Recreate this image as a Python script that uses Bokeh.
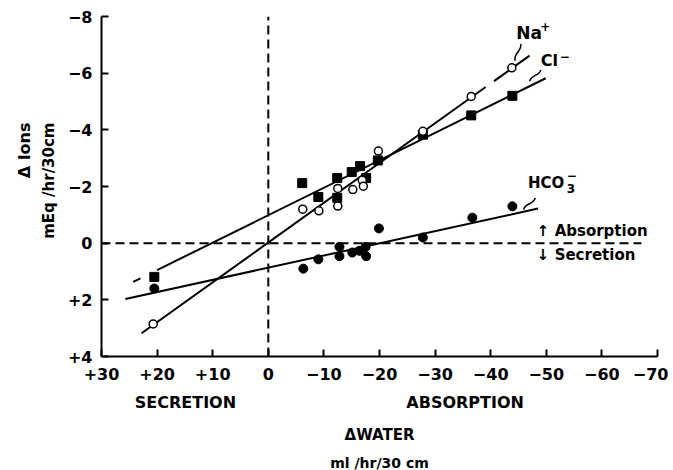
from bokeh.plotting import figure
from bokeh.models import Range1d, Label, FixedTicker, LinearAxis, Title
from bokeh.embed import file_html
from bokeh.resources import INLINE

# ---- data ----
na_x = [20.7, -6.2, -9.1, -12.5, -12.5, -15.2, -16.9, -17.1, -19.8, -27.8, -36.5, -43.8]
na_y = [2.85, -1.20, -1.14, -1.93, -1.31, -1.89, -2.22, -2.01, -3.25, -3.95, -5.18, -6.19]

cl_x = [20.5, -6.1, -9.0, -12.4, -12.4, -15.0, -16.5, -17.6, -19.7, -27.8, -36.5, -43.9]
cl_y = [1.19, -2.12, -1.63, -2.30, -1.60, -2.51, -2.72, -2.30, -2.92, -3.83, -4.51, -5.20]

hco3_x = [20.5, -6.3, -9.0, -12.8, -12.8, -15.1, -16.4, -17.5, -17.6, -19.9, -27.8, -36.7, -43.9]
hco3_y = [1.60, 0.90, 0.57, 0.13, 0.46, 0.33, 0.27, 0.13, 0.46, -0.52, -0.20, -0.90, -1.30]

# fitted lines (segment end points)
na_fit_xs = [[22.8, -39.1], [-40.6, -47.0]]
na_fit_ys = [[3.18, -5.51], [-5.72, -6.62]]
cl_fit_xs = [[24.3, 23.0], [20.0, -49.9]]
cl_fit_ys = [[1.37, 1.24], [0.95, -5.82]]
hco3_fit_xs = [[25.7, -48.5]]
hco3_fit_ys = [[1.97, -1.22]]

x_ticks = [30, 20, 10, 0, -10, -20, -30, -40, -50, -60, -70]
x_tick_labels = ["+30", "+20", "+10", "0", "\u221210", "\u221220", "\u221230",
                 "\u221240", "\u221250", "\u221260", "\u221270\u2005"]
y_ticks = [-8, -6, -4, -2, 0, 2, 4]
y_tick_labels = ["\u22128", "\u22126", "\u22124", "\u22122", "0", "+2", "+4"]

side_ticks = [14.9, -35.4]
side_labels = ["SECRETION", "ABSORPTION"]

FONT = "DejaVu Sans"

p = figure(width=672, height=470,
           x_range=Range1d(30, -70), y_range=Range1d(4, -8),
           output_backend="svg", toolbar_location=None,
           min_border_left=101, min_border_right=15,
           min_border_top=16, min_border_bottom=114)
p.outline_line_color = None
p.xgrid.visible = False
p.ygrid.visible = False
p.background_fill_color = "white"
p.border_fill_color = "white"

for ax, ticks, labels in ((p.xaxis[0], x_ticks, x_tick_labels),
                          (p.yaxis[0], y_ticks, y_tick_labels)):
    ax.ticker = FixedTicker(ticks=ticks)
    ax.major_label_overrides = {t: l for t, l in zip(ticks, labels)}
    ax.axis_line_width = 2
    ax.axis_line_color = "black"
    ax.major_tick_line_width = 2
    ax.major_tick_line_color = "black"
    ax.major_tick_in = 7
    ax.major_tick_out = 0
    ax.minor_tick_line_color = None
    ax.major_label_text_font = FONT
    ax.major_label_text_font_style = "bold"
    ax.major_label_text_font_size = "16px"
    ax.major_label_text_color = "black"
p.xaxis[0].major_label_standoff = 8
p.yaxis[0].major_label_standoff = 9

# second axis carrying the SECRETION / ABSORPTION captions
side = LinearAxis(ticker=FixedTicker(ticks=side_ticks),
                  major_label_overrides={t: l for t, l in zip(side_ticks, side_labels)},
                  axis_line_color=None, major_tick_line_color=None,
                  minor_tick_line_color=None, major_label_standoff=0,
                  major_label_text_font=FONT, major_label_text_font_style="bold",
                  major_label_text_font_size="16px", major_label_text_color="black")
p.add_layout(side, "below")


def title(text, place, size, align="center", offset=0, standoff=4):
    p.add_layout(Title(text=text, align=align, offset=offset, standoff=standoff,
                       text_font=FONT, text_font_style="bold", text_font_size=size,
                       text_color="black"), place)


title("\u0394WATER", "below", "15px", offset=5, standoff=18)
title("ml /hr/30 cm", "below", "14px", offset=-7, standoff=0)
title("mEq /hr/30cm", "left", "15px", align="right", offset=106, standoff=14)
title("\u0394 Ions", "left", "16px", align="right", offset=106, standoff=-6)

# reference dashed lines
p.line(x=[0, 0], y=[4, -8], line_color="black", line_width=2, line_dash="9 5")
p.line(x=[30, -67.1], y=[0, 0], line_color="black", line_width=2, line_dash="9 5")

# fit lines
for xs, ys in ((na_fit_xs, na_fit_ys), (cl_fit_xs, cl_fit_ys), (hco3_fit_xs, hco3_fit_ys)):
    p.multi_line(xs=xs, ys=ys, line_color="black", line_width=2)

# points
p.scatter(x=cl_x, y=cl_y, marker="square", size=9, fill_color="black", line_color="black")
p.scatter(x=hco3_x, y=hco3_y, marker="circle", size=9, fill_color="black", line_color="black")
p.scatter(x=na_x, y=na_y, marker="circle", size=8, fill_color="white", line_color="black",
          line_width=1.5)

# squiggle leaders
p.bezier(x0=[-45.4, -49.0, -48.0], y0=[-7.03, -6.12, -1.60],
         x1=[-44.4, -47.0, -45.9], y1=[-6.44, -5.71, -1.18],
         cx0=[-45.7, -48.8, -47.8], cy0=[-6.79, -5.89, -1.36],
         cx1=[-44.0, -47.2, -46.1], cy1=[-6.69, -5.95, -1.42],
         line_color="black", line_width=1.5)


def lab(x, y, text, size, align="left", baseline="middle"):
    p.add_layout(Label(x=x, y=y, text=text, text_font=FONT, text_font_style="bold",
                       text_font_size=size, text_color="black", text_align=align,
                       text_baseline=baseline))


# ion labels
lab(-44.6, -7.41, "Na", "17px")
lab(-48.9, -7.64, "+", "12px")
lab(-49.0, -6.44, "Cl", "16px")
lab(-52.4, -6.58, "\u2212", "12px")
lab(-46.7, -2.13, "HCO", "15px")
lab(-53.7, -1.94, "3", "12px")
lab(-53.7, -2.39, "\u2212", "12px")

lab(-48.3, -0.44, "\u2191 Absorption", "15px")
lab(-48.3, 0.42, "\u2193 Secretion", "15px")

open("out.html", "w").write(file_html(p, INLINE))
